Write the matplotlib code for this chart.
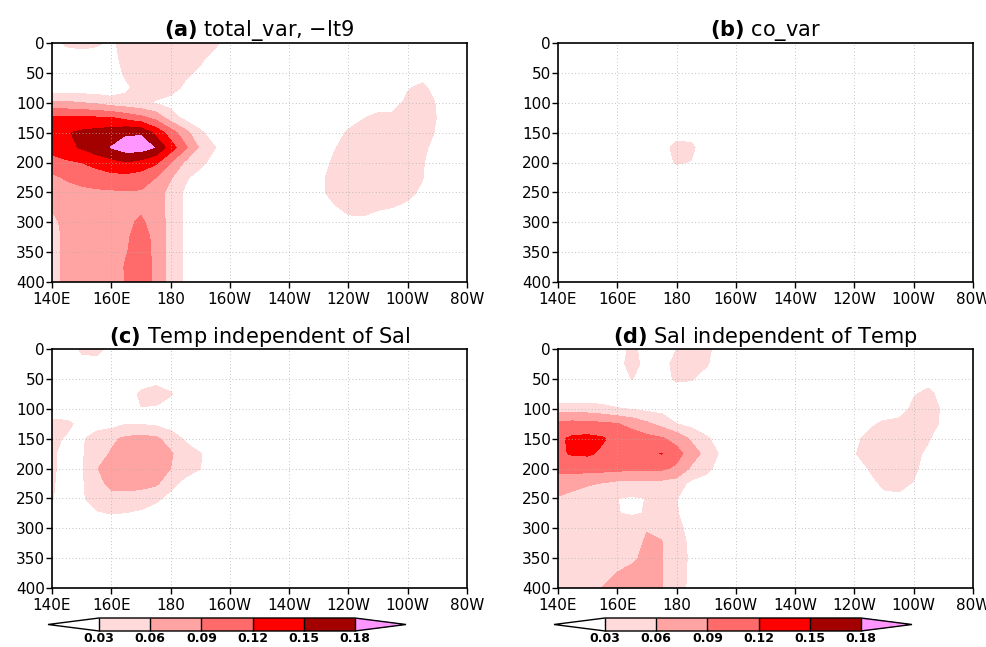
import matplotlib
matplotlib.use('Agg')
import matplotlib.pyplot as plt
import numpy as np

# grid: longitude (deg east) and depth (m)
lons = [140, 145, 150, 155, 160, 165, 170, 175, 180, 185, 190, 195, 200, 205, 210,
        215, 220, 225, 230, 235, 240, 245, 250, 255, 260, 265, 270, 275, 280]
depths = [0, 25, 50, 75, 100, 125, 150, 175, 200, 225, 250, 275, 300, 325, 350, 375, 400]

# fields in units of 0.01, one row per depth
total_var = [
    [2, 3.5, 4, 3.5, 2.5, 4, 4.5, 4.5, 4.5, 4, 4, 3.5, 2, 1, 0.5, 0, 0, 0, 0, 0, 0, 0, 0, 0, 0, 0, 0, 0, 0],
    [1, 1.5, 1.5, 1.5, 2, 4, 4.5, 4.5, 4.5, 4, 3.5, 2, 1, 0.5, 0, 0, 0, 0, 0, 0, 0, 0, 0, 0, 0.5, 0.5, 0, 0, 0],
    [0.5, 0.5, 0.5, 0.5, 1.5, 3.5, 4, 4, 4, 3.5, 2.5, 1, 0.5, 0, 0, 0, 0, 0, 0, 0, 0, 0, 0, 1, 1.5, 2, 1, 0, 0],
    [1, 1, 1, 1, 1, 2.5, 4, 4, 4, 2.5, 1, 0.5, 0, 0, 0, 0, 0, 0, 0, 0, 0, 0, 0.5, 1.5, 2.8, 3.5, 2, 0.5, 0],
    [6.5, 6.5, 6, 5.5, 4.5, 4, 3.5, 2.8, 2, 1.5, 1, 0.5, 0, 0, 0, 0, 0, 0, 0, 0, 1, 1.5, 2, 2, 3.6, 4, 2.8, 1, 0],
    [12.5, 12.5, 12.5, 12.3, 12.1, 11, 9.8, 8, 4.5, 2, 1, 0.5, 0, 0, 0, 0, 0, 0, 0.5, 1, 2, 2.9, 3.5, 3.6, 4, 4.2, 2.9, 1, 0],
    [14, 14.8, 15.5, 16, 16.5, 17.5, 17.6, 14, 10.5, 7, 3.5, 1.5, 0.5, 0, 0, 0, 0, 0, 1, 2, 3.3, 3.8, 4, 4, 4.2, 4, 2.7, 1, 0],
    [13.5, 14.2, 15.3, 16.8, 18.1, 19.5, 19.5, 17.8, 13.5, 9.5, 5.5, 3.1, 1.5, 0.5, 0, 0, 0, 0, 1.5, 2.8, 3.8, 4, 4, 4, 4, 3.6, 2, 1, 0],
    [10.5, 11.5, 12, 13, 14, 14.8, 14, 12.5, 9, 5.5, 4, 1.5, 0.5, 0, 0, 0, 0, 0, 2, 3.3, 4, 4, 4, 4, 3.8, 3.2, 1.5, 0.5, 0],
    [8.5, 9.3, 10, 10.5, 11, 11, 10.5, 9, 6.3, 3.5, 1.5, 0.5, 0, 0, 0, 0, 0, 0, 2.5, 3.6, 4, 4, 4, 4, 3.7, 3.1, 1.2, 0.5, 0],
    [7, 8, 8.3, 8.5, 8.6, 8.7, 8.7, 7.5, 5, 2.5, 1, 0.5, 0, 0, 0, 0, 0, 0, 2.5, 3.6, 3.8, 3.8, 3.8, 3.7, 3.5, 2.6, 1, 0.5, 0],
    [6.3, 7.5, 8, 8.2, 8.3, 8.5, 8.6, 7.5, 4.8, 2.5, 1, 0.5, 0, 0, 0, 0, 0, 0, 1.5, 2.8, 3.4, 3.4, 3.2, 3.0, 2.6, 1.5, 0.5, 0, 0],
    [5, 7.2, 7.8, 8, 8.2, 8.6, 9.3, 8.2, 4.8, 2.5, 1, 0.5, 0, 0, 0, 0, 0, 0, 0.5, 1.5, 2.6, 2.7, 2.2, 1.5, 1, 0.5, 0, 0, 0],
    [4.5, 7, 7.5, 7.8, 8, 8.8, 9.6, 8.6, 4.8, 2.5, 1, 0.5, 0, 0, 0, 0, 0, 0, 0, 0, 0.5, 0.5, 0.5, 0, 0, 0, 0, 0, 0],
    [4.5, 7, 7.3, 7.6, 8, 8.9, 9.8, 8.6, 4.8, 2.5, 1, 0.5, 0, 0, 0, 0, 0, 0, 0, 0, 0, 0, 0, 0, 0, 0, 0, 0, 0],
    [4.5, 7, 7.2, 7.5, 7.9, 9.2, 10, 8.6, 4.8, 2.5, 1, 0.5, 0, 0, 0, 0, 0, 0, 0, 0, 0, 0, 0, 0, 0, 0, 0, 0, 0],
    [4.5, 7, 7.2, 7.5, 7.8, 9.1, 10, 8.6, 4.8, 2.5, 1, 0.5, 0, 0, 0, 0, 0, 0, 0, 0, 0, 0, 0, 0, 0, 0, 0, 0, 0],
]

co_var = [
    [0, 0, 0, 0, 0, 0, 0, 0, 0, 0, 0, 0, 0, 0, 0, 0, 0, 0, 0, 0, 0, 0, 0, 0, 0, 0, 0, 0, 0],
    [0, 0, 0, 0, 0, 0, 0, 0, 0, 0, 0, 0, 0, 0, 0, 0, 0, 0, 0, 0, 0, 0, 0, 0, 0, 0, 0, 0, 0],
    [0, 0, 0, 0, 0, 0, 0, 0, 0, 0, 0, 0, 0, 0, 0, 0, 0, 0, 0, 0, 0, 0, 0, 0, 0, 0, 0, 0, 0],
    [0, 0, 0, 0, 0, 0, 0, 0, 0, 0, 0, 0, 0, 0, 0, 0, 0, 0, 0, 0, 0, 0, 0, 0, 0, 0, 0, 0, 0],
    [0, 0, 0, 0, 0, 0, 0, 0, 0, 0, 0, 0, 0, 0, 0, 0, 0, 0, 0, 0, 0, 0, 0, 0, 0, 0, 0, 0, 0],
    [0, 0, 0, 0, 0, 0, 0, 0.5, 0.5, 0.5, 0, 0, 0, 0, 0, 0, 0, 0, 0, 0, 0, 0, 0, 0, 0, 0, 0, 0, 0],
    [0, 0, 0, 0, 0, 0, 0, 1, 2.2, 2, 1, 0, 0, 0, 0, 0, 0, 0, 0, 0, 0, 0, 0, 0, 0, 0, 0, 0, 0],
    [0, 0, 0, 0, 0, 0, 0.5, 2.2, 3.6, 3.5, 1.5, 0, 0, 0, 0, 0, 0, 0, 0, 0, 0, 0, 0, 0, 0, 0, 0, 0, 0],
    [0, 0, 0, 0, 0, 0, 0.5, 2.2, 3.2, 2.9, 1, 0, 0, 0, 0, 0, 0, 0, 0, 0, 0, 0, 0, 0, 0, 0, 0, 0, 0],
    [0, 0, 0, 0, 0, 0, 0, 0.5, 1.5, 1, 0.5, 0, 0, 0, 0, 0, 0, 0, 0, 0, 0, 0, 0, 0, 0, 0, 0, 0, 0],
    [0, 0, 0, 0, 0, 0, 0, 0, 0, 0, 0, 0, 0, 0, 0, 0, 0, 0, 0, 0, 0, 0, 0, 0, 0, 0, 0, 0, 0],
    [0, 0, 0, 0, 0, 0, 0, 0, 0, 0, 0, 0, 0, 0, 0, 0, 0, 0, 0, 0, 0, 0, 0, 0, 0, 0, 0, 0, 0],
    [0, 0, 0, 0, 0, 0, 0, 0, 0, 0, 0, 0, 0, 0, 0, 0, 0, 0, 0, 0, 0, 0, 0, 0, 0, 0, 0, 0, 0],
    [0, 0, 0, 0, 0, 0, 0, 0, 0, 0, 0, 0, 0, 0, 0, 0, 0, 0, 0, 0, 0, 0, 0, 0, 0, 0, 0, 0, 0],
    [0, 0, 0, 0, 0, 0, 0, 0, 0, 0, 0, 0, 0, 0, 0, 0, 0, 0, 0, 0, 0, 0, 0, 0, 0, 0, 0, 0, 0],
    [0, 0, 0, 0, 0, 0, 0, 0, 0, 0, 0, 0, 0, 0, 0, 0, 0, 0, 0, 0, 0, 0, 0, 0, 0, 0, 0, 0, 0],
    [0, 0, 0, 0, 0, 0, 0, 0, 0, 0, 0, 0, 0, 0, 0, 0, 0, 0, 0, 0, 0, 0, 0, 0, 0, 0, 0, 0, 0],
]

temp_indep = [
    [0, 1, 3.5, 3.8, 2, 0.5, 0, 0, 0, 0, 0, 0, 0, 0, 0, 0, 0, 0, 0, 0, 0, 0, 0, 0, 0, 0, 0, 0, 0],
    [0, 0.5, 2, 2, 0.5, 0, 0, 0, 0, 0, 0, 0, 0, 0, 0, 0, 0, 0, 0, 0, 0, 0, 0, 0, 0, 0, 0, 0, 0],
    [0, 0, 0.5, 0.5, 0.5, 1, 1.5, 2, 1, 0.5, 0, 0, 0, 0, 0, 0, 0, 0, 0, 0, 0, 0, 0, 0, 0, 0, 0, 0, 0],
    [0, 0, 0, 0, 0.5, 1.5, 3.5, 4.2, 3.3, 1, 0, 0, 0, 0, 0, 0, 0, 0, 0, 0, 0, 0, 0, 0, 0, 0, 0, 0, 0],
    [1.5, 1, 0.5, 0.5, 1, 1.5, 2.9, 2.7, 1.5, 0.5, 0, 0, 0, 0, 0, 0, 0, 0, 0, 0, 0, 0, 0, 0, 0, 0, 0, 0, 0],
    [3.6, 3.6, 2.2, 1.5, 1.8, 2.9, 2.8, 2.4, 1.5, 0.5, 0, 0, 0, 0, 0, 0, 0, 0, 0, 0, 0, 0, 0, 0, 0, 0, 0, 0, 0],
    [3.6, 2.7, 2.5, 4.5, 5.5, 6.5, 7, 6.5, 4.8, 2.5, 1, 0.5, 0, 0, 0, 0, 0, 0, 0, 0, 0, 0, 0, 0, 0, 0, 0, 0, 0],
    [3.6, 1.5, 2.6, 5, 6.2, 7.5, 8, 7.5, 6.3, 4.5, 3.1, 1.5, 0.5, 0, 0, 0, 0, 0, 0, 0, 0, 0, 0, 0, 0, 0, 0, 0, 0],
    [3.6, 1.5, 2.6, 5.8, 7.5, 8, 8, 7.5, 6, 4.3, 3.1, 1, 0, 0, 0, 0, 0, 0, 0, 0, 0, 0, 0, 0, 0, 0, 0, 0, 0],
    [3.5, 1, 2.6, 5, 6.8, 7, 7, 6.5, 4, 2, 1, 0, 0, 0, 0, 0, 0, 0, 0, 0, 0, 0, 0, 0, 0, 0, 0, 0, 0],
    [3.2, 1, 2.6, 4.2, 5, 5, 4.5, 3.7, 2, 1, 0, 0, 0, 0, 0, 0, 0, 0, 0, 0, 0, 0, 0, 0, 0, 0, 0, 0, 0],
    [2, 0.5, 1.5, 2.7, 3.1, 2.9, 2.5, 1.5, 1, 0.5, 0, 0, 0, 0, 0, 0, 0, 0, 0, 0, 0, 0, 0, 0, 0, 0, 0, 0, 0],
    [1, 0, 0.5, 1, 1, 1, 0.5, 0.5, 0, 0, 0, 0, 0, 0, 0, 0, 0, 0, 0, 0, 0, 0, 0, 0, 0, 0, 0, 0, 0],
    [0, 0, 0, 0, 0, 0, 0, 0, 0, 0, 0, 0, 0, 0, 0, 0, 0, 0, 0, 0, 0, 0, 0, 0, 0, 0, 0, 0, 0],
    [0, 0, 0, 0, 0, 0, 0, 0, 0, 0, 0, 0, 0, 0, 0, 0, 0, 0, 0, 0, 0, 0, 0, 0, 0, 0, 0, 0, 0],
    [0, 0, 0, 0, 0, 0, 0, 0, 0, 0, 0, 0, 0, 0, 0, 0, 0, 0, 0, 0, 0, 0, 0, 0, 0, 0, 0, 0, 0],
    [0, 0, 0, 0, 0, 0, 0, 0, 0, 0, 0, 0, 0, 0, 0, 0, 0, 0, 0, 0, 0, 0, 0, 0, 0, 0, 0, 0, 0],
]

sal_indep = [
    [0, 0, 0.5, 1, 1.5, 3.8, 1.5, 1, 3, 4, 3.8, 1.5, 0.5, 0, 0, 0, 0, 0, 0, 0, 0, 0, 0, 0, 0, 0, 0, 0, 0],
    [0, 0, 0.5, 1, 2, 4, 2, 2, 3.8, 4.2, 3.4, 1, 0, 0, 0, 0, 0, 0, 0, 0, 0, 0, 0, 0, 0, 0, 0, 0, 0],
    [0, 0, 0.5, 0.5, 1.5, 3.1, 1.5, 2, 3.4, 3.2, 1.5, 0.5, 0, 0, 0, 0, 0, 0, 0, 0, 0, 0, 0, 0, 1.5, 2, 0.5, 0, 0],
    [0.5, 0.5, 0.5, 0.5, 0.5, 1, 1, 1, 1.5, 1.5, 1, 0.5, 0, 0, 0, 0, 0, 0, 0, 0, 0, 0, 0, 1, 2.8, 3.6, 2, 0.5, 0],
    [4.5, 4.5, 4.5, 4, 3.2, 2.8, 2.2, 2, 1.5, 1, 0.5, 0, 0, 0, 0, 0, 0, 0, 0, 0, 0.5, 1, 1.5, 2, 3.5, 3.8, 2.7, 1, 0],
    [9.8, 10, 9.8, 9.5, 9.1, 8, 6.5, 5, 3, 2, 1, 0.5, 0, 0, 0, 0, 0, 0, 0, 0.5, 1.5, 2.6, 3.4, 3.6, 3.8, 3.8, 2.6, 1, 0],
    [11.5, 12.5, 12.8, 12.3, 11, 10.5, 10, 9.3, 8, 5.5, 3.5, 1.5, 0.5, 0, 0, 0, 0, 0, 0, 1, 2.6, 3.5, 3.8, 3.8, 3.8, 3.2, 1.5, 0.5, 0],
    [11.5, 12.3, 12.4, 11.5, 11, 11, 11.3, 12.1, 10, 7.5, 5, 2.5, 1, 0, 0, 0, 0, 0, 0, 1.5, 2.9, 3.6, 3.8, 3.8, 3.6, 2.5, 1, 0, 0],
    [9.8, 10, 10, 10, 9.8, 9.7, 9.6, 9.5, 8.5, 5.5, 4, 1.5, 0.5, 0, 0, 0, 0, 0, 0, 0.5, 2, 3.1, 3.7, 3.7, 3.4, 2, 1, 0, 0],
    [7.2, 7, 6.5, 5.8, 5.2, 5, 5, 5, 4.5, 2.2, 1.5, 0.5, 0, 0, 0, 0, 0, 0, 0, 0, 1, 2.5, 3.3, 3.4, 2.9, 1.5, 0.5, 0, 0],
    [5.8, 5, 3.5, 3.3, 3.02, 2.7, 3.05, 3.6, 3.1, 1.5, 0.5, 0, 0, 0, 0, 0, 0, 0, 0, 0, 0.5, 1.5, 2.6, 2.7, 2, 1, 0, 0, 0],
    [5, 4.5, 4, 3.6, 3.05, 2.8, 3.1, 4.5, 3.2, 1.5, 0.5, 0, 0, 0, 0, 0, 0, 0, 0, 0, 0, 0, 0, 0, 0, 0, 0, 0, 0],
    [4.5, 4.5, 4.2, 4, 4, 4.2, 5.8, 5.6, 3.8, 2, 1, 0, 0, 0, 0, 0, 0, 0, 0, 0, 0, 0, 0, 0, 0, 0, 0, 0, 0],
    [4.5, 4.5, 4.3, 4.2, 4.3, 4.8, 6.5, 6.1, 4, 2.5, 1, 0, 0, 0, 0, 0, 0, 0, 0, 0, 0, 0, 0, 0, 0, 0, 0, 0, 0],
    [4.5, 4.5, 4.3, 4.3, 4.5, 5.6, 6.6, 6.1, 4, 2.6, 1, 0, 0, 0, 0, 0, 0, 0, 0, 0, 0, 0, 0, 0, 0, 0, 0, 0, 0],
    [4.5, 4.5, 4.5, 5, 6.1, 6.6, 6.7, 6.1, 4, 2.5, 1, 0, 0, 0, 0, 0, 0, 0, 0, 0, 0, 0, 0, 0, 0, 0, 0, 0, 0],
    [4.5, 4.5, 4.5, 6.1, 6.5, 6.6, 6.7, 6.1, 4, 2.4, 1, 0, 0, 0, 0, 0, 0, 0, 0, 0, 0, 0, 0, 0, 0, 0, 0, 0, 0],
]

levels = [0.03, 0.06, 0.09, 0.12, 0.15, 0.18]
colors = ['white', '#ffdada', '#ffa3a3', '#ff6b6b', '#ff0000', '#a30000', '#ff96ff']
xticks = [140, 160, 180, 200, 220, 240, 260, 280]
xlabels = ['140E', '160E', '180', '160W', '140W', '120W', '100W', '80W']
yticks = [0, 50, 100, 150, 200, 250, 300, 350, 400]

tags = ['(a)', '(b)', '(c)', '(d)']
names = ['total_var, \u2212lt9', 'co_var', 'Temp independent of Sal', 'Sal independent of Temp']
fields = [total_var, co_var, temp_indep, sal_indep]

fig = plt.figure(figsize=(9.87, 6.47), dpi=100)
W, H = 987.0, 647.0
boxes = [(52, 43), (558, 43), (52, 349), (558, 349)]

for k in range(4):
    x0, y0 = boxes[k]
    ax = fig.add_axes([x0 / W, 1 - (y0 + 239) / H, 415 / W, 239 / H])
    z = np.array(fields[k]) * 0.01
    cs = ax.contourf(lons, depths, z, levels=levels, colors=colors, extend='both')
    ax.set_xlim(140, 280)
    ax.set_ylim(400, 0)
    ax.set_xticks(xticks)
    ax.set_xticklabels(xlabels)
    ax.set_yticks(yticks)
    ax.tick_params(direction='out', length=4, width=1, labelsize=11)
    ax.tick_params(axis='y', pad=1)
    ax.tick_params(axis='x', pad=3)
    ax.grid(True, linestyle=(0, (1, 3)), color='#b0b0b0', linewidth=0.6)
    for s in ax.spines.values():
        s.set_linewidth(1.2)
    ax.set_title(r'$\mathbf{' + tags[k] + '}$ ' + names[k], fontsize=15, pad=4)

    if k >= 2:
        cax = fig.add_axes([(x0 - 4) / W, 1 - 631 / H, 358 / W, 13 / H])
        cb = fig.colorbar(cs, cax=cax, orientation='horizontal', extendfrac=0.2,
                          drawedges=True, ticks=levels)
        cb.outline.set_linewidth(1)
        cb.dividers.set_color('black')
        cb.dividers.set_linewidth(1)
        cb.ax.set_xticklabels(['%.2f' % v for v in levels], fontsize=9, fontweight='bold')
        cb.ax.tick_params(length=0, pad=1)

fig.savefig('out.png', dpi=100)
